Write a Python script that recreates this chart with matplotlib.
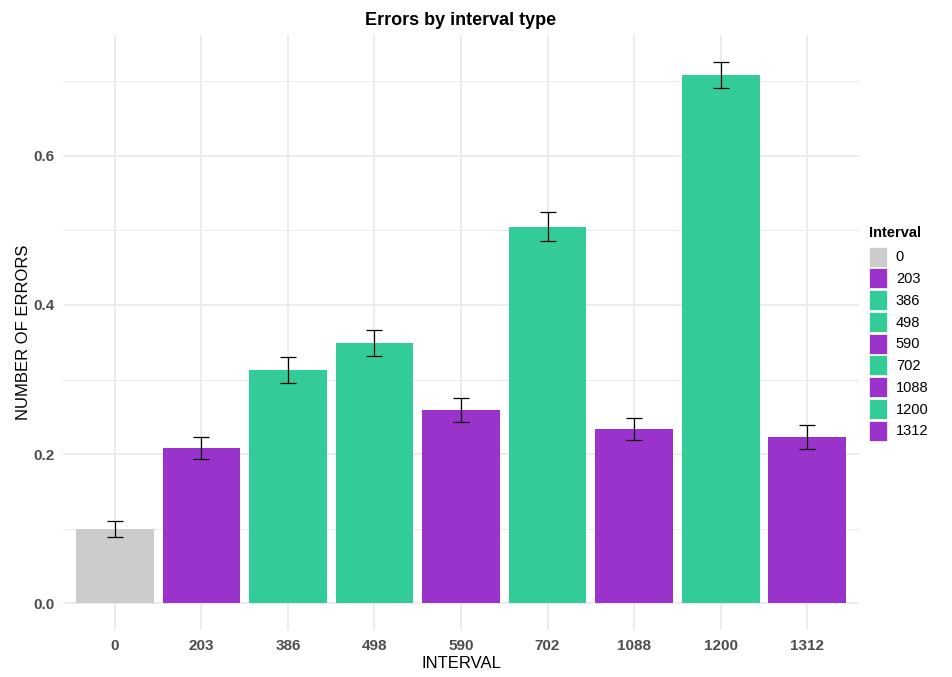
import matplotlib
matplotlib.use("Agg")
import matplotlib.pyplot as plt
from matplotlib.patches import Patch
import numpy as np

# mean errors per interval and their standard errors
intervals = ["0", "203", "386", "498", "590", "702", "1088", "1200", "1312"]
errors = [0.100, 0.208, 0.313, 0.349, 0.259, 0.505, 0.234, 0.708, 0.223]
se = [0.011, 0.015, 0.017, 0.018, 0.016, 0.019, 0.015, 0.0175, 0.0155]
groups = ["none", "odd", "even", "even", "odd", "even", "odd", "even", "odd"]

palette = {"none": "#CCCCCC", "odd": "#9933CC", "even": "#33CC99"}
colors = [palette[g] for g in groups]

plt.rcParams["font.family"] = ["Liberation Sans", "DejaVu Sans"]

fig = plt.figure(figsize=(9.52, 6.77), dpi=100)
W, H = 952, 677
ax = fig.add_axes([63 / W, (H - 630.4) / H, (859 - 63) / W, (630.4 - 35) / H])

x = np.arange(len(intervals))
ax.bar(x, errors, width=0.9, color=colors, zorder=2)
ax.errorbar(x, errors, yerr=se, fmt="none", ecolor="black", elinewidth=0.9,
            capsize=6, capthick=0.9, zorder=3)

ymax = max(e + s for e, s in zip(errors, se))
ax.set_ylim(-0.05 * ymax, ymax * 1.05)
ax.set_xlim(-0.6, len(intervals) - 0.4)

ax.set_yticks([0.0, 0.2, 0.4, 0.6])
ax.set_yticklabels(["0.0", "0.2", "0.4", "0.6"])
ax.set_yticks([0.1, 0.3, 0.5, 0.7], minor=True)
ax.set_xticks(x)
ax.set_xticklabels(intervals)

# minimal theme: no spines, no tick marks, light grid
for s in ax.spines.values():
    s.set_visible(False)
ax.tick_params(which="both", length=0)
ax.tick_params(axis="both", labelsize=11, labelcolor="#4D4D4D", pad=6)
for lbl in ax.get_xticklabels() + ax.get_yticklabels():
    lbl.set_fontweight("bold")
ax.grid(True, which="major", color="#EBEBEB", linewidth=1.3, zorder=0)
ax.grid(True, which="minor", axis="y", color="#EBEBEB", linewidth=0.7, zorder=0)
ax.set_axisbelow(True)

ax.set_xlabel("INTERVAL", fontsize=12, labelpad=2)
ax.set_ylabel("NUMBER OF ERRORS", fontsize=12, labelpad=2)
ax.set_title("Errors by interval type", fontsize=13, fontweight="bold", pad=7)

handles = [Patch(facecolor=c, edgecolor="white", linewidth=0.5) for c in colors]
leg = fig.legend(handles, intervals, loc="upper left",
                 bbox_to_anchor=(863 / W, (H - 220) / H), frameon=False,
                 title="Interval", title_fontproperties={"weight": "bold", "size": 10.5},
                 fontsize=10.5, handlelength=1.25, handleheight=1.73,
                 labelspacing=0.12, handletextpad=0.6, borderaxespad=0)
leg._legend_box.align = "left"
leg._legend_box.sep = 5

fig.savefig("out.png", dpi=100)
